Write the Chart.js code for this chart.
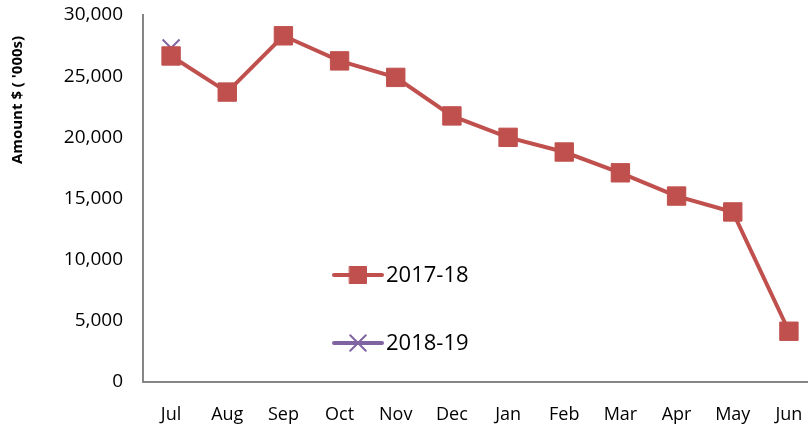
<!DOCTYPE html>
<html>
<head>
<meta charset="utf-8">
<script src="https://cdn.jsdelivr.net/npm/chart.js@4"></script>
<style>
  html, body { margin: 0; padding: 0; background: #fff; overflow: hidden; }
  #wrap { width: 832px; height: 425px; }
</style>
</head>
<body>
<div id="wrap"><canvas id="grafico" width="832" height="425"></canvas></div>
<script>
const meses = ["Jul", "Aug", "Sep", "Oct", "Nov", "Dec", "Jan", "Feb", "Mar", "Apr", "May", "Jun"];
const valores1718 = [26650, 23700, 28300, 26250, 24900, 21750, 20000, 18800, 17100, 15200, 13900, 4150];
const valores1819 = [27300];
const ticksY = [0, 5000, 10000, 15000, 20000, 25000, 30000];
const tituloY = "Amount $ ( '000s)";

const fuente = "'Open Sans', 'Liberation Sans', sans-serif";

// leyenda dibujada dentro del area del grafico + titulo del eje y
const leyendaInterna = {
  id: "leyendaInterna",
  afterDraw(chart) {
    const ctx = chart.ctx;
    const filas = [275, 343];
    chart.data.datasets.forEach((ds, i) => {
      const y = filas[i];
      ctx.save();
      ctx.strokeStyle = ds.borderColor;
      ctx.fillStyle = ds.pointBackgroundColor || ds.borderColor;
      ctx.lineWidth = 4;
      ctx.lineCap = "round";
      ctx.beginPath();
      ctx.moveTo(334, y);
      ctx.lineTo(382, y);
      ctx.stroke();
      ctx.lineWidth = ds.pointBorderWidth;
      Chart.helpers.drawPoint(ctx, {
        pointStyle: ds.pointStyle,
        radius: ds.pointRadius - 1,
        borderWidth: ds.pointBorderWidth,
        rotation: 0,
      }, 358, y);
      ctx.fillStyle = "#000";
      ctx.font = "22px " + fuente;
      ctx.textBaseline = "middle";
      ctx.fillText(ds.label, 386, y + 1);
      ctx.restore();
    });

    ctx.save();
    ctx.translate(18, 100);
    ctx.rotate(-Math.PI / 2);
    ctx.fillStyle = "#000";
    ctx.font = "bold 15px " + fuente;
    ctx.textAlign = "center";
    ctx.textBaseline = "middle";
    ctx.fillText(tituloY, 0, 0);
    ctx.restore();
  },
};

const canvas = document.getElementById("grafico").getContext("2d");
new Chart(canvas, {
  type: "line",
  data: {
    labels: meses,
    datasets: [
      {
        label: "2017-18",
        data: valores1718,
        borderColor: "#C0504D",
        backgroundColor: "#C0504D",
        pointBackgroundColor: "#C0504D",
        pointBorderColor: "#C0504D",
        pointStyle: "rect",
        pointRadius: 13,
        pointBorderWidth: 1,
        borderWidth: 4,
        tension: 0,
      },
      {
        label: "2018-19",
        data: valores1819,
        borderColor: "#8064A2",
        backgroundColor: "#8064A2",
        pointBorderColor: "#8064A2",
        pointStyle: "crossRot",
        pointRadius: 12,
        pointBorderWidth: 2,
        borderWidth: 4,
        tension: 0,
      },
    ],
  },
  options: {
    responsive: false,
    animation: false,
    layout: { padding: { top: 15, right: 15, left: 0, bottom: 0 } },
    plugins: {
      legend: { display: false },
      tooltip: { enabled: false },
    },
    scales: {
      x: {
        offset: true,
        grid: { display: false, drawTicks: false },
        border: { display: true, color: "#868686", width: 2 },
        ticks: { color: "#000", font: { family: fuente, size: 18 }, padding: 22 },
        afterFit: (scale) => {
          scale.height = 43;
          scale.paddingLeft = 0;
          scale.paddingRight = 0;
        },
      },
      y: {
        min: 0,
        max: 30000,
        afterBuildTicks: (scale) => { scale.ticks = ticksY.map((v) => ({ value: v })); },
        grid: { display: false, drawTicks: false },
        border: { display: true, color: "#868686", width: 2 },
        ticks: {
          color: "#000",
          font: { family: fuente, size: 19, lineHeight: 1 },
          padding: 20,
          callback: (v) => v.toLocaleString("en-US"),
        },
        afterFit: (scale) => {
          scale.width = 143;
          scale.paddingTop = 0;
          scale.paddingBottom = 0;
        },
      },
    },
  },
  plugins: [leyendaInterna],
});
</script>
</body>
</html>
